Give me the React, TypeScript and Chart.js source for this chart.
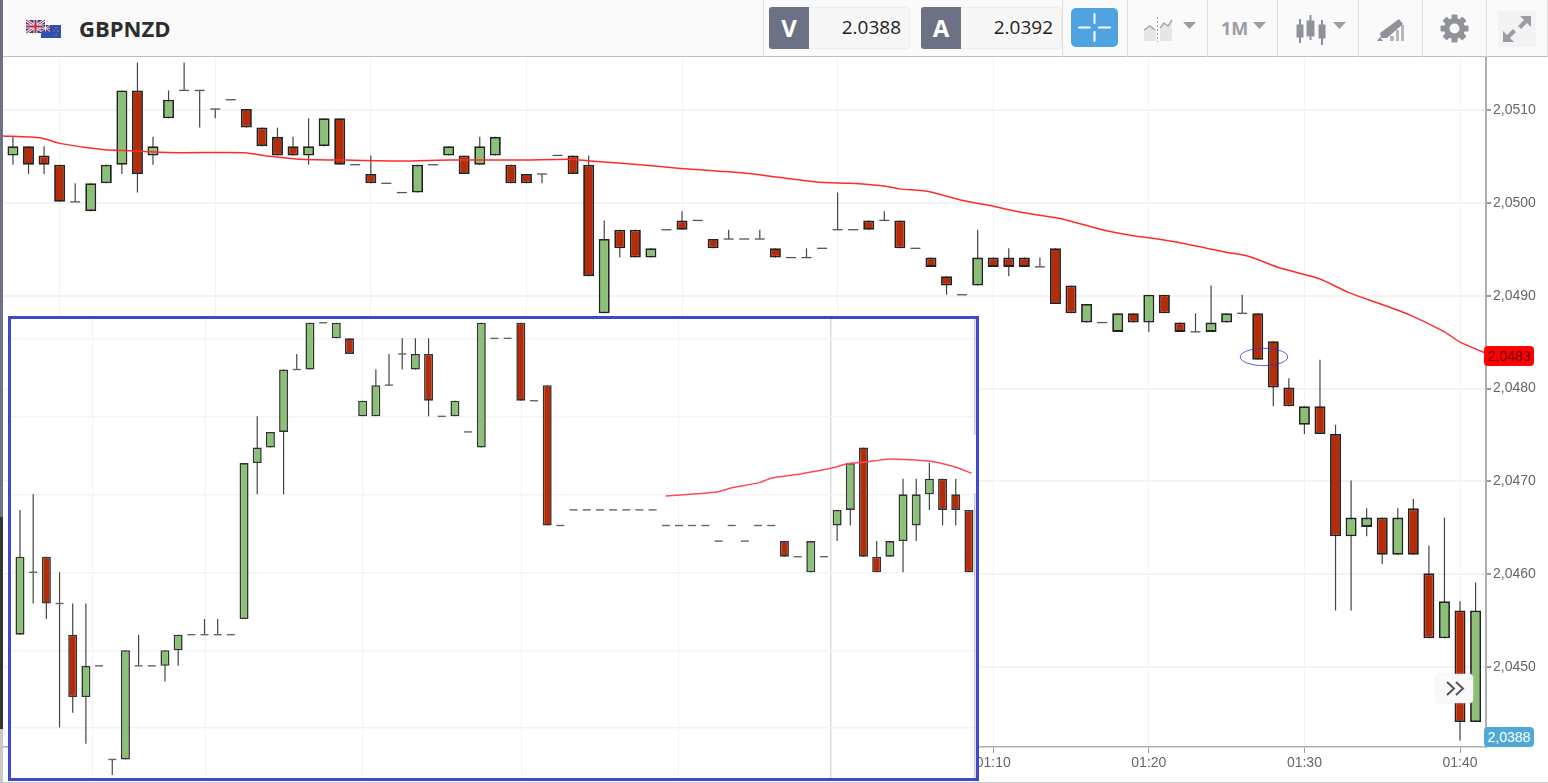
import React, { useEffect, useRef } from "react";
import { Chart, registerables } from "chart.js";

Chart.register(...registerables);

const SYMBOL = "GBPNZD";
const BID = "2.0388";
const ASK = "2.0392";
const PERIOD = "1M";
const MA_LABEL = "2,0483";
const LAST_LABEL = "2,0388";

const FIRST_MINUTE = 7;
const mainOpen = [2.0505,2.0506,2.0505,2.0504,2.05,2.0499,2.0502,2.0504,2.0512,2.0505,2.0509,2.0512,2.0512,2.051,2.0511,2.051,2.0508,2.0507,2.0506,2.0505,2.0506,2.0509,2.0504,2.0503,2.0502,2.0501,2.0501,2.0504,2.0505,2.0505,2.0504,2.0505,2.0504,2.0503,2.0503,2.0505,2.0505,2.0504,2.0488,2.0497,2.0497,2.0494,2.0497,2.0498,2.0498,2.0496,2.0496,2.0496,2.0496,2.0495,2.0494,2.0494,2.0495,2.0497,2.0497,2.0498,2.0498,2.0498,2.0495,2.0494,2.0492,2.049,2.0491,2.0494,2.0494,2.0494,2.0493,2.0495,2.0491,2.0487,2.0487,2.0486,2.0488,2.0487,2.049,2.0487,2.0486,2.0486,2.0487,2.0488,2.0488,2.0485,2.048,2.0476,2.0478,2.0475,2.0464,2.0465,2.0466,2.0462,2.0467,2.046,2.0453,2.0456,2.0444];
const mainClose = [2.0506,2.0504,2.0504,2.05,2.05,2.0502,2.0504,2.0512,2.0503,2.0506,2.0511,2.0512,2.0512,2.051,2.0511,2.0508,2.0506,2.0505,2.0505,2.0506,2.0509,2.0504,2.0504,2.0502,2.0502,2.0501,2.0504,2.0504,2.0506,2.0503,2.0506,2.0507,2.0502,2.0502,2.0503,2.0505,2.0503,2.0492,2.0496,2.0495,2.0494,2.0495,2.0497,2.0497,2.0498,2.0495,2.0496,2.0496,2.0496,2.0494,2.0494,2.0494,2.0495,2.0497,2.0497,2.0497,2.0498,2.0495,2.0495,2.0493,2.0491,2.049,2.0494,2.0493,2.0493,2.0493,2.0493,2.0489,2.0488,2.0489,2.0487,2.0488,2.0487,2.049,2.0488,2.0486,2.0486,2.0487,2.0488,2.0488,2.0483,2.048,2.0478,2.0478,2.0475,2.0464,2.0466,2.0466,2.0462,2.0466,2.0462,2.0453,2.0457,2.0444,2.0456];
const mainHigh = [2.0507,2.0506,2.0506,2.0504,2.0502,2.0502,2.0504,2.0512,2.0515,2.0507,2.0512,2.0515,2.0512,2.051,2.0511,2.051,2.0508,2.0508,2.0507,2.0509,2.0509,2.0509,2.0504,2.0505,2.0502,2.0501,2.0504,2.0504,2.0506,2.0505,2.0507,2.0507,2.0504,2.0503,2.0503,2.0505,2.0505,2.0505,2.0498,2.0497,2.0497,2.0495,2.0497,2.0499,2.0498,2.0496,2.0497,2.0496,2.0497,2.0495,2.0494,2.0495,2.0495,2.0501,2.0497,2.0498,2.0499,2.0498,2.0495,2.0494,2.0492,2.049,2.0497,2.0494,2.0495,2.0494,2.0494,2.0495,2.0491,2.0489,2.0487,2.0488,2.0488,2.049,2.049,2.0487,2.0488,2.0491,2.0488,2.049,2.0488,2.0485,2.0481,2.0478,2.0483,2.0476,2.047,2.0467,2.0466,2.0467,2.0468,2.0463,2.0466,2.0457,2.0459];
const mainLow = [2.0504,2.0503,2.0503,2.05,2.05,2.0499,2.0502,2.0503,2.0501,2.0504,2.0509,2.0512,2.0508,2.0509,2.0511,2.0508,2.0506,2.0505,2.0505,2.0504,2.0506,2.0504,2.0504,2.0502,2.0502,2.0501,2.0501,2.0504,2.0505,2.0503,2.0504,2.0505,2.0502,2.0502,2.0502,2.0505,2.0503,2.0492,2.0488,2.0494,2.0494,2.0494,2.0497,2.0497,2.0498,2.0495,2.0496,2.0496,2.0496,2.0494,2.0494,2.0494,2.0495,2.0497,2.0497,2.0497,2.0498,2.0495,2.0495,2.0493,2.049,2.049,2.0491,2.0493,2.0492,2.0493,2.0493,2.0489,2.0488,2.0487,2.0487,2.0486,2.0487,2.0486,2.0488,2.0486,2.0486,2.0486,2.0487,2.0488,2.0483,2.0478,2.0478,2.0475,2.0475,2.0456,2.0456,2.0464,2.0461,2.0462,2.0462,2.0453,2.0453,2.0442,2.0444];
const MAIN_PRICE_BIAS = 0.00001; // the quotes sit about a tenth of a pip above the rounded values read

const maMinute = [6.36,8.74,10,12.9,14.5,15.8,17.7,21.9,23.5,25.4,28.3,31.9,35.1,39.6,42.8,44.1,47.3,49.9,52.4,54,56.9,58.9,60.8,63,64,65.9,67.9,69.8,71.7,74.3,75.9,77,78.8,80.1,82,84.9,86.5,88.4,91,92.9,94.9,96.8,99,100,101.67];
const maValue = [2.05072,2.0507,2.05064,2.05057,2.05056,2.05055,2.05054,2.05054,2.0505,2.05047,2.05046,2.05045,2.05046,2.05046,2.05047,2.05045,2.05041,2.05037,2.05034,2.05032,2.05026,2.05022,2.05021,2.05018,2.05015,2.05012,2.05003,2.04997,2.0499,2.04983,2.04976,2.04971,2.04965,2.04962,2.04957,2.04947,2.04942,2.0493,2.04918,2.04903,2.04891,2.04879,2.04861,2.0485,2.04838];

const insetOpen = [6,10,11,8,6,2,4,-2,-2,4,4,4,5,6,6,6,6,7,17,18,19,23,23,26,25,25,20,20,22,24,23,24,20,20,19,18,25,25,26,21,22,13,14,14,14,14,14,14,14,13,13,13,13,12,13,12,13,13,12,11,10,11,13,14,18,11,11,12,13,15,16,15,14];
const insetClose = [11,10,8,8,2,4,4,-2,5,4,4,5,6,6,6,6,6,17,18,19,23,23,26,26,26,24,21,22,22,24,24,21,20,21,19,26,25,25,21,21,13,13,14,14,14,14,14,14,14,13,13,13,13,12,13,12,13,13,11,11,12,11,14,17,11,10,12,15,15,16,14,14,10];
const insetHigh = [14,15,11,10,8,8,4,-2,5,6,4,5,6,6,7,7,6,17,20,19,23,24,26,26,26,25,21,23,24,25,25,25,20,21,19,26,25,25,26,21,22,13,14,14,14,14,14,14,14,13,13,13,13,12,13,12,13,13,12,11,12,11,14,17,18,12,12,16,16,17,16,16,14];
const insetLow = [6,8,7,0,1,-1,4,-3,-2,4,4,3,4,6,6,6,6,7,15,18,15,23,23,26,25,24,20,20,22,23,23,20,20,20,19,18,25,25,21,21,13,13,14,14,14,14,14,14,14,13,13,13,13,12,13,12,13,13,11,11,10,11,12,13,11,10,11,10,12,14,13,13,10];
const insetMaIndex = [49,51.1,53,54.1,56.1,57,59.2,61.7,62.7,64.2,66,68.9,70.9,72.2];
const insetMaValue = [14.89,15.02,15.17,15.43,15.75,16.03,16.3,16.7,16.95,17.07,17.26,17.13,16.77,16.35];
const insetGridTicks = [5.5,14.06,25.97,38.06,49.98,61.5];

const GREEN = "#8BC176";
const RED = "#B62B08";
const EDGE = "#222";
const MA_RED = "#FF2B2B";
const AXIS = "#b0b0b0";
const GRID = "#f3f3f3";
const TICK_FONT = { family: "'Liberation Sans', Arial, sans-serif", size: 14 };
const HEAD_FONT = "'Open Sans', 'Noto Sans', sans-serif";

function candleDatasets(xs: number[], o: number[], c: number[], h: number[], l: number[], bias = 0) {
  const wicks: any[] = [];
  const bodies: any[] = [];
  const bodyColors: string[] = [];
  const dojis: any[] = [];
  xs.forEach((x, i) => {
    if (h[i] !== l[i]) wicks.push({ x, y: [l[i] + bias, h[i] + bias] });
    if (o[i] === c[i]) {
      dojis.push({ x, y: o[i] + bias });
    } else {
      bodies.push({ x, y: [o[i] + bias, c[i] + bias] });
      bodyColors.push(c[i] > o[i] ? GREEN : RED);
    }
  });
  return [
    { type: "bar", order: 3, grouped: false, data: wicks, barThickness: 1.2, backgroundColor: "#444", borderWidth: 0, inflateAmount: 0 },
    { type: "bar", order: 2, grouped: false, data: bodies, barThickness: 11, backgroundColor: bodyColors, borderColor: EDGE, borderWidth: 1.8, borderSkipped: false, inflateAmount: 0 },
    { type: "scatter", order: 1, data: dojis, pointStyle: "line", pointRadius: 5, pointBorderWidth: 1.3, pointBorderColor: "#555", pointHoverRadius: 5 },
  ];
}

const ellipsePlugin = {
  id: "cursorEllipse",
  afterDatasetsDraw(chart: any) {
    const { ctx, scales } = chart;
    ctx.save();
    ctx.strokeStyle = "#2a35d8";
    ctx.lineWidth = 0.8;
    ctx.beginPath();
    ctx.ellipse(scales.x.getPixelForValue(87.4), scales.y.getPixelForValue(2.04834), 23.7, 8.7, 0, 0, Math.PI * 2);
    ctx.stroke();
    ctx.restore();
  },
};

function minuteLabel(v: number) {
  const h = Math.floor(v / 60);
  const m = v % 60;
  return `${String(h).padStart(2, "0")}:${String(m).padStart(2, "0")}`;
}

function MainChart() {
  const ref = useRef<HTMLCanvasElement>(null);
  useEffect(() => {
    const minutes = mainOpen.map((_, i) => FIRST_MINUTE + i);
    const chart = new Chart(ref.current as any, {
      type: "bar",
      data: {
        datasets: [
          ...candleDatasets(minutes, mainOpen, mainClose, mainHigh, mainLow, MAIN_PRICE_BIAS),
          { type: "line", order: 0, data: maMinute.map((x, i) => ({ x, y: maValue[i] })), borderColor: MA_RED, borderWidth: 1.5, pointRadius: 0, tension: 0.2 },
        ] as any,
      },
      plugins: [ellipsePlugin],
      options: {
        responsive: false,
        animation: false,
        events: [],
        layout: { autoPadding: false, padding: { left: 3, top: 57, right: 0, bottom: 0 } },
        plugins: { legend: { display: false }, tooltip: { enabled: false } },
        scales: {
          x: {
            type: "linear",
            min: 6.36,
            max: 101.67,
            offset: false,
            afterFit: (s: any) => { s.height = 36; s.paddingLeft = 0; s.paddingRight = 0; },
            border: { color: AXIS, width: 1.5 },
            grid: { offset: false, color: GRID, lineWidth: 1, tickColor: "#999", tickLength: 6 },
            ticks: { stepSize: 10, includeBounds: false, autoSkip: false, maxRotation: 0, padding: 2, color: "#666", font: TICK_FONT, callback: (v: any) => minuteLabel(Number(v)) },
          },
          y: {
            type: "linear",
            position: "right",
            min: 2.04414,
            max: 2.05157,
            afterFit: (s: any) => { s.width = 62; s.paddingTop = 0; s.paddingBottom = 0; },
            border: { color: AXIS, width: 2 },
            grid: { color: GRID, lineWidth: 2, tickColor: "#999", tickLength: 5 },
            ticks: { stepSize: 0.001, includeBounds: false, padding: 2, color: "#666", font: TICK_FONT, callback: (v: any) => Number(v).toFixed(4).replace(".", ",") },
          },
        },
      } as any,
    });
    return () => chart.destroy();
  }, []);
  return <canvas ref={ref} width={1548} height={783} style={{ position: "absolute", left: 0, top: 0, display: "block" }} />;
}

function InsetChart() {
  const ref = useRef<HTMLCanvasElement>(null);
  useEffect(() => {
    const idx = insetOpen.map((_, i) => i);
    const chart = new Chart(ref.current as any, {
      type: "bar",
      data: {
        datasets: [
          ...candleDatasets(idx, insetOpen, insetClose, insetHigh, insetLow).map((d: any) =>
            d.type === "bar" && d.barThickness > 2 ? { ...d, barThickness: 9, borderWidth: 1.6, borderColor: "#333" } : d.type === "scatter" ? { ...d, pointRadius: 4, pointBorderWidth: 1.4, pointBorderColor: "#666" } : d
          ),
          { type: "line", order: 0, data: insetMaIndex.map((x, i) => ({ x, y: insetMaValue[i] })), borderColor: "#FF4A55", borderWidth: 1.5, pointRadius: 0, tension: 0.2 },
        ] as any,
      },
      options: {
        responsive: false,
        animation: false,
        events: [],
        layout: { autoPadding: false, padding: { left: 0, top: 0, right: 1, bottom: 0 } },
        plugins: { legend: { display: false }, tooltip: { enabled: false } },
        scales: {
          x: {
            type: "linear",
            min: -0.683,
            max: 72.46,
            offset: false,
            afterBuildTicks: (s: any) => { s.ticks = insetGridTicks.map((value) => ({ value })); },
            afterFit: (s: any) => { s.height = 0; },
            border: { display: false },
            grid: {
              offset: false,
              drawTicks: false,
              color: (c: any) => (c.tick && c.tick.value === 61.5 ? "#dcdcdc" : GRID),
              lineWidth: (c: any) => (c.tick && c.tick.value === 61.5 ? 1.5 : 1),
            },
            ticks: { display: false },
          },
          y: {
            type: "linear",
            position: "right",
            min: -3.19,
            max: 26.24,
            afterFit: (s: any) => { s.width = 0; },
            border: { color: "#c8c8c8", width: 1.5 },
            grid: { color: GRID, lineWidth: 1.5, drawTicks: false },
            ticks: { display: false, stepSize: 5, includeBounds: false },
          },
        },
      } as any,
    });
    return () => chart.destroy();
  }, []);
  return (
    <div style={{ position: "absolute", left: 8, top: 316, width: 971, height: 465, boxSizing: "border-box", border: "3px solid #3F48CC", background: "#fff" }}>
      <canvas ref={ref} width={965} height={459} style={{ display: "block" }} />
      <div style={{ position: "absolute", left: 963, top: 116, width: 2, height: 58, background: "#fff" }} />
    </div>
  );
}

const abs = (left: number, top: number, width: number, height: number): React.CSSProperties => ({ position: "absolute", left, top, width, height });
const ICON = "#9a9da3";

function Caret({ x }: { x: number }) {
  return (
    <svg style={abs(x, 22, 13, 7)} viewBox="0 0 13 7"><path d="M0 0H13L6.5 7Z" fill={ICON} /></svg>
  );
}

function Flags() {
  return (
    <svg style={abs(25, 19, 38, 20)} viewBox="0 0 38 20">
      <rect x="1" y="1" width="19" height="13" fill="#2b3f8f" />
      <path d="M1 1L20 14M20 1L1 14" stroke="#e9e9f0" strokeWidth="3" />
      <path d="M1 1L20 14M20 1L1 14" stroke="#c8283a" strokeWidth="1" />
      <path d="M10.5 1V14M1 7.5H20" stroke="#e9e9f0" strokeWidth="4" />
      <path d="M10.5 1V14M1 7.5H20" stroke="#c8283a" strokeWidth="2" />
      <rect x="16" y="6" width="20" height="13" fill="#2f52b0" />
      <rect x="16" y="6" width="9" height="6.5" fill="#5a3f7a" />
      <path d="M16 6L25 12.5M25 6L16 12.5M20.5 6V12.5M16 9.25H25" stroke="#e4dde4" strokeWidth="1" />
      <g fill="#e8606a"><circle cx="31" cy="9" r="0.8" /><circle cx="29" cy="12" r="0.8" /><circle cx="33" cy="12" r="0.8" /><circle cx="31" cy="16" r="0.8" /></g>
    </svg>
  );
}

function Toolbar() {
  const seps = [762.5, 1062, 1126.5, 1207, 1277, 1358, 1422, 1486, 1547];
  const quote = (x: number, letter: string, value: string) => (
    <>
      <div style={{ ...abs(x, 7, 141, 42), boxSizing: "border-box", background: "#f7f7f7", border: "1px solid #eee", borderRadius: 4 }} />
      <div style={{ ...abs(x, 7, 40, 42), background: "#6D7186", borderRadius: "3px 0 0 3px", color: "#fff", font: `700 24px ${HEAD_FONT}`, lineHeight: "42px", textAlign: "center" }}>{letter}</div>
      <div style={{ ...abs(x + 40, 7, 92, 42), color: "#222", font: `400 19px ${HEAD_FONT}`, lineHeight: "40px", textAlign: "right" }}>{value}</div>
    </>
  );
  return (
    <div style={{ ...abs(0, 0, 1548, 57), background: "#fafafa", boxSizing: "border-box", borderBottom: "1.5px solid #bdbdbd" }}>
      <Flags />
      <div style={{ ...abs(79, 10, 120, 36), color: "#2d2d2d", font: `700 22px ${HEAD_FONT}`, lineHeight: "36px" }}>{SYMBOL}</div>
      {seps.map((x) => <div key={x} style={{ ...abs(x, 0, 1, 57), background: "#dedede" }} />)}
      {quote(769, "V", BID)}
      {quote(921, "A", ASK)}
      <div style={{ ...abs(1071, 8, 47, 39), background: "#4FA3E0", borderRadius: 5 }}>
        <svg width="47" height="39" viewBox="0 0 47 39">
          <path d="M8 19.5H19M28 19.5H39M23.5 6V15M23.5 24V33" stroke="#fff" strokeWidth="2" strokeLinecap="round" />
        </svg>
      </div>
      <svg style={abs(1143, 17, 30, 25)} viewBox="0 0 30 25">
        <path d="M1 24V13L7 9L13 13V24Z" fill="#e6e6e6" />
        <path d="M17 10L21 7L25 9L29 3V24H17Z" fill="#e6e6e6" />
        <path d="M1 13L7 9L12 13M17 11L21 6L25 9L29 3" stroke="#a5a8ad" strokeWidth="1.5" fill="none" />
        <path d="M14.5 0V25" stroke="#a5a8ad" strokeWidth="1" strokeDasharray="2 2" />
      </svg>
      <Caret x={1183} />
      <div style={{ ...abs(1221, 12, 30, 32), color: "#9a9da3", font: `700 18px ${HEAD_FONT}`, lineHeight: "32px" }}>{PERIOD}</div>
      <Caret x={1253} />
      <svg style={abs(1296, 14, 30, 31)} viewBox="0 0 30 31">
        <g fill="#8f9298" stroke="#8f9298">
          <rect x="1" y="11" width="6" height="12" /><path d="M4 5V29" strokeWidth="2" />
          <rect x="11" y="7" width="7" height="15" /><path d="M14.5 1V26" strokeWidth="2" />
          <rect x="23" y="11" width="6" height="13" /><path d="M26 6V31" strokeWidth="2" />
        </g>
      </svg>
      <Caret x={1333} />
      <svg style={abs(1377, 18, 28, 24)} viewBox="0 0 28 24">
        <path d="M13 23V18H17V23ZM19 23V12H22V23ZM24 23V7H27V23Z" fill="#b5b7bb" />
        <path d="M3 15L18 4L22 1L26 6L10 20H4Z" fill="#8f9298" />
        <path d="M0 23L3 19L6 23Z" fill="#8f9298" />
      </svg>
      <svg style={abs(1440, 14, 29, 29)} viewBox="-14.5 -14.5 29 29">
        <g fill="#8f9298">
          {[0, 45, 90, 135, 180, 225, 270, 315].map((a) => <rect key={a} x="-3" y="-14" width="6" height="8" rx="1" transform={`rotate(${a})`} />)}
          <path fillRule="evenodd" d="M0-10.5a10.5 10.5 0 1 0 0 21a10.5 10.5 0 1 0 0-21ZM0-5a5 5 0 1 1 0 10a5 5 0 1 1 0-10Z" />
        </g>
      </svg>
      <div style={{ ...abs(1498, 11, 38, 36), background: "#f3f3f3" }}>
        <svg width="38" height="36" viewBox="0 0 38 36">
          <path d="M22 5H33V16L29 12L23 18L20 15L26 9ZM5 31V20L9 24L15 18L18 21L12 27L16 31Z" fill="#9a9da3" />
        </svg>
      </div>
    </div>
  );
}

function PriceTag({ top, bg, color, text }: { top: number; bg: string; color: string; text: string }) {
  return (
    <div style={{ ...abs(1484, top, 50, 20), background: bg, borderRadius: 4, color, font: "14px 'Liberation Sans', Arial, sans-serif", lineHeight: "20px", textAlign: "center" }}>{text}</div>
  );
}

export default function App() {
  return (
    <div style={{ position: "fixed", left: 0, top: 0, width: 1548, height: 783, overflow: "hidden", background: "#fff" }}>
      <MainChart />
      <Toolbar />
      <div style={{ ...abs(0, 0, 3, 517), background: "#6D7186" }} />
      <div style={{ ...abs(0, 517, 3, 212), background: "#333438" }} />
      <div style={{ ...abs(0, 729, 3, 54), background: "#c8c8cc" }} />
      <div style={{ ...abs(0, 782, 1548, 1), background: "#c8c8c8" }} />
      <InsetChart />
      <PriceTag top={346} bg="#FF0000" color="#6b0000" text={MA_LABEL} />
      <PriceTag top={727} bg="#4EA9D8" color="#fff" text={LAST_LABEL} />
      <div style={{ ...abs(1436, 674, 37, 29), background: "#f9f9f9", borderRadius: 4, boxShadow: "0 0 2px #ddd" }}>
        <svg width="37" height="29" viewBox="0 0 37 29">
          <path d="M11 8L18 14.5L11 21M20 8L27 14.5L20 21" stroke="#555" strokeWidth="2" fill="none" />
        </svg>
      </div>
    </div>
  );
}
